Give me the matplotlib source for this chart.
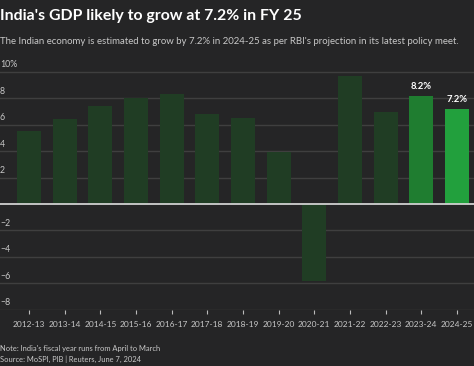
import matplotlib.pyplot as plt
import matplotlib.transforms as mtransforms
import numpy as np

# data
years = ["2012-13", "2013-14", "2014-15", "2015-16", "2016-17", "2017-18",
         "2018-19", "2019-20", "2020-21", "2021-22", "2022-23", "2023-24", "2024-25"]
growth = [5.5, 6.4, 7.4, 8.0, 8.3, 6.8, 6.5, 3.9, -5.8, 9.7, 7.0, 8.2, 7.2]
labelled = {"2023-24": "8.2%", "2024-25": "7.2%"}
yticks = [-8, -6, -4, -2, 2, 4, 6, 8, 10]
ytick_labels = ["\u22128", "\u22126", "\u22124", "\u22122", "2", "4", "6", "8", "10%"]

bg = "#252526"
txt = "#c8c8c8"
bar_colors = ["#203d24"] * 11 + ["#1f7d30", "#22a03d"]

plt.rcParams["font.family"] = ["Lato", "DejaVu Sans"]

fig = plt.figure(figsize=(4.74, 3.66), dpi=100, facecolor=bg)
ax = fig.add_axes([0, 0.1541, 1, 0.671])
ax.set_facecolor(bg)

x = np.arange(len(years))
ax.bar(x, growth, width=0.67, color=bar_colors, zorder=2)

for xi, yr, v in zip(x, years, growth):
    if yr in labelled:
        ax.text(xi, v + 0.35, labelled[yr], ha="center", va="bottom",
                color="white", fontsize=6.8, fontweight="bold")

ax.set_xlim(-0.813, 12.477)
ax.set_ylim(-8, 10.6)

for t in yticks:
    ax.axhline(t, color="#3f3f3f", lw=1, zorder=1)
ax.axhline(0, color="#d0d0d0", lw=1.3, zorder=3)

trans = mtransforms.blended_transform_factory(ax.transAxes, ax.transData)
for t, lab in zip(yticks, ytick_labels):
    ax.text(0.0, t + 0.2, lab, transform=trans, ha="left", va="bottom",
            color=txt, fontsize=6.3)

ax.set_yticks([])
ax.set_xticks(x)
ax.set_xticklabels(years, fontsize=6.0, color=txt)
ax.tick_params(axis="x", length=3, color="#bbbbbb", pad=5)
for s in ax.spines.values():
    s.set_visible(False)

fig.text(0.0, 0.955, "India's GDP likely to grow at 7.2% in FY 25", ha="left",
         va="center", color="white", fontsize=11.4, fontweight="bold")
fig.text(0.0, 0.887, "The Indian economy is estimated to grow by 7.2% in 2024-25 as per RBI's projection in its latest policy meet.",
         ha="left", va="center", color=txt, fontsize=6.9)
fig.text(0.0, 0.049, "Note: India's fiscal year runs from April to March", ha="left",
         va="center", color=txt, fontsize=5.4)
fig.text(0.0, 0.019, "Source: MoSPI, PIB | Reuters, June 7, 2024", ha="left",
         va="center", color=txt, fontsize=5.4)

fig.savefig("out.png", dpi=100, facecolor=bg)
